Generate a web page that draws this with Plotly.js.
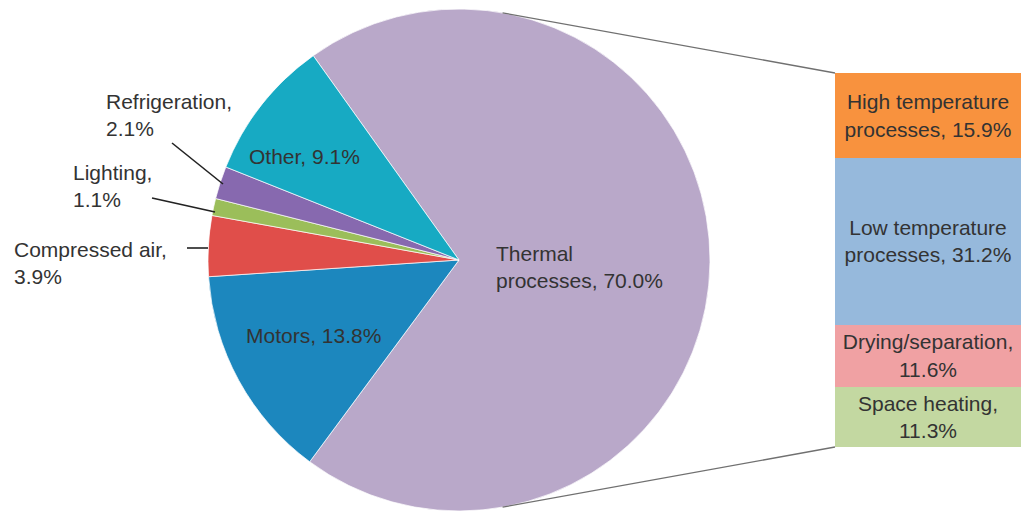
<!DOCTYPE html>
<html>
<head>
<meta charset="utf-8">
<script src="https://cdn.plot.ly/plotly-3.0.1.min.js"></script>
<style>html,body{margin:0;padding:0;background:#fff;}#chart{width:1023px;height:512px;}</style>
</head>
<body>
<div id="chart"></div>
<script>
// Pie data (share of industrial energy use, %)
var pieLabels = ["Thermal processes", "Motors", "Compressed air", "Lighting", "Refrigeration", "Other"];
var pieValues = [70.0, 13.8, 3.9, 1.1, 2.1, 9.1];
var pieColors = ["#B9A8C9", "#1C87BE", "#E04E4A", "#9BBE5A", "#8769AF", "#17AAC3"];

// Breakdown of thermal processes (%), top to bottom
var barLabels = ["High temperature<br>processes", "Low temperature<br>processes", "Drying/separation,<br>", "Space heating,<br>"];
var barNames = ["High temperature processes", "Low temperature processes", "Drying/separation", "Space heating"];
var barValues = [15.9, 31.2, 11.6, 11.3];
var barColors = ["#F8923E", "#96B9DC", "#F0A1A3", "#C3D8A1"];

var W = 1023, H = 512;
var FONT = "Liberation Sans, Arial, sans-serif";
var TXT = "#333333";
var FS = 21;

// pie geometry (pixels)
var pcx = 459, pcy = 260, pr = 251;
var pieDomX = [(pcx - pr) / W, (pcx + pr) / W];
var pieDomY = [(H - pcy - pr) / H, (H - pcy + pr) / H];

// bar geometry (pixels)
var bx0 = 835, bx1 = 1021, by0 = 73, by1 = 447;
var barDomX = [bx0 / W, bx1 / W];
var barDomY = [(H - by1) / H, (H - by0) / H];

var data = [{
  type: "pie",
  labels: pieLabels,
  values: pieValues,
  sort: false,
  direction: "clockwise",
  rotation: -35.5,
  textinfo: "none",
  hoverinfo: "label+percent",
  marker: {colors: pieColors, line: {color: "rgba(255,255,255,0.7)", width: 1}},
  domain: {x: pieDomX, y: pieDomY},
  showlegend: false
}];

// stacked bar: bottom segment first
for (var i = barValues.length - 1; i >= 0; i--) {
  var t;
  if (i < 2) t = barLabels[i] + ", " + barValues[i].toFixed(1) + "%";
  else t = barLabels[i] + barValues[i].toFixed(1) + "%";
  data.push({
    type: "bar",
    x: [0],
    y: [barValues[i]],
    name: barNames[i],
    width: 1,
    marker: {color: barColors[i], line: {width: 0}},
    text: [t],
    textposition: "inside",
    insidetextanchor: "middle",
    textangle: 0,
    constraintext: "none",
    insidetextfont: {family: FONT, size: FS, color: TXT},
    hoverinfo: "name+y",
    showlegend: false,
    xaxis: "x",
    yaxis: "y"
  });
}

function px(x) { return x / W; }
function py(y) { return 1 - y / H; }

function pieText(i) { return pieLabels[i] + ", " + pieValues[i].toFixed(1) + "%"; }

var annotations = [
  {x: px(494), y: py(267), xanchor: "left", yanchor: "middle", align: "left",
   text: "Thermal<br>processes, " + pieValues[0].toFixed(1) + "%"},
  {x: px(313), y: py(335), xanchor: "center", yanchor: "middle", text: pieText(1)},
  {x: px(12), y: py(263), xanchor: "left", yanchor: "middle", align: "left",
   text: pieLabels[2] + ",<br>" + pieValues[2].toFixed(1) + "%"},
  {x: px(71), y: py(186), xanchor: "left", yanchor: "middle", align: "left",
   text: pieLabels[3] + ",<br>" + pieValues[3].toFixed(1) + "%"},
  {x: px(104), y: py(115), xanchor: "left", yanchor: "middle", align: "left",
   text: pieLabels[4] + ",<br>" + pieValues[4].toFixed(1) + "%"},
  {x: px(304), y: py(156), xanchor: "center", yanchor: "middle", text: pieText(5)}
].map(function (a) {
  a.xref = "paper"; a.yref = "paper"; a.showarrow = false;
  a.font = {family: FONT, size: FS, color: TXT};
  return a;
});

function line(x0, y0, x1, y1, c, w) {
  return {type: "line", xref: "paper", yref: "paper",
    x0: px(x0), y0: py(y0), x1: px(x1), y1: py(y1),
    line: {color: c, width: w}};
}

// connector points on pie edge
var aTop = 10 * Math.PI / 180, aBot = 170 * Math.PI / 180;
var tpx = pcx + pr * Math.sin(aTop), tpy = pcy - pr * Math.cos(aTop);
var bpx = pcx + pr * Math.sin(aBot), bpy = pcy - pr * Math.cos(aBot);

var shapes = [
  line(tpx, tpy, bx0, by0, "#707070", 1.3),
  line(bpx, bpy, bx0, by1, "#707070", 1.3),
  line(172, 143, 223, 184, "#222222", 1.6),
  line(152, 198, 215, 212, "#222222", 1.6),
  line(187, 248, 208, 248, "#222222", 1.6)
];

var layout = {
  width: W, height: H,
  margin: {l: 0, r: 0, t: 0, b: 0, pad: 0},
  paper_bgcolor: "#ffffff",
  plot_bgcolor: "rgba(0,0,0,0)",
  barmode: "stack",
  bargap: 0,
  showlegend: false,
  font: {family: FONT, color: TXT},
  xaxis: {domain: barDomX, range: [-0.5, 0.5], visible: false, fixedrange: true},
  yaxis: {domain: barDomY, range: [0, 70], visible: false, fixedrange: true},
  annotations: annotations,
  shapes: shapes
};

Plotly.newPlot("chart", data, layout, {displayModeBar: false, staticPlot: true});
</script>
</body>
</html>
